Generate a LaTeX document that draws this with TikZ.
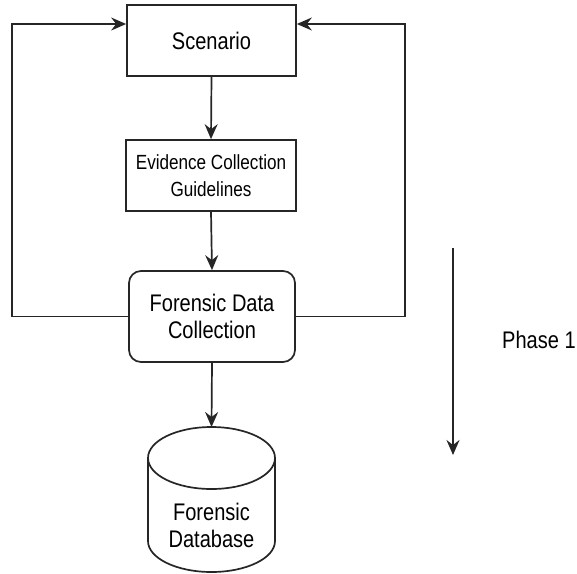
\documentclass[tikz,border=0pt]{standalone}
\usepackage{fontspec}
\setmainfont[FakeStretch=0.835]{Liberation Sans}
\usetikzlibrary{arrows.meta,calc}
\begin{document}
\begin{tikzpicture}[x=1pt,y=-1pt,
  line/.style={draw=black!85, line width=1.7pt},
  arr/.style={line, -{Stealth[length=15pt,width=13pt,inset=5pt]}},
  big/.style={font=\fontsize{24}{27}\selectfont},
  small/.style={font=\fontsize{20.5}{27}\selectfont},
  box/.style={line, rectangle, fill=white, align=center, inner sep=0pt},
  ]
\useasboundingbox (0,0) rectangle (577,573);
% nodes
\node[box, big, minimum width=169pt, minimum height=71pt] (sc) at (211.5,40.5) {Scenario};
\node[box, small, minimum width=170pt, minimum height=71pt] (ev) at (211,175.5) {Evidence Collection\\Guidelines};
\node[box, big, rounded corners=12pt, minimum width=166pt, minimum height=91pt] (fdc) at (212,316.5) {Forensic Data\\Collection};
% cylinder
\fill[white] (148,458) -- (148,541) arc[start angle=180, end angle=0, x radius=63.5, y radius=31] -- (275,458) -- cycle;
\draw[line] (148,458) -- (148,541) arc[start angle=180, end angle=0, x radius=63.5, y radius=31] -- (275,458);
\draw[line, fill=white] (211.5,458) ellipse [x radius=63.5, y radius=31];
\node[big, align=center, inner sep=0pt] (db) at (211.5,525) {Forensic\\Database};
\coordinate (dbtop) at (211.5,427);
% phase
\coordinate (ph1) at (453,248);
\coordinate (ph2) at (453,455);
\node[big, anchor=west, inner sep=0pt] (phase) at (502,340) {Phase 1};
% connectors
\draw[arr] (sc.south) -- (ev.north);
\draw[arr] (ev.south) -- (fdc.north);
\draw[arr] (fdc.south) -- (dbtop);
\draw[arr] (fdc.west) -- ++(-116,0) |- ($(sc.west)+(0,-16.5)$);
\draw[arr] (fdc.east) -- ++(109,0) |- ($(sc.east)+(0,-16.5)$);
\draw[arr] (ph1) -- (ph2);
\end{tikzpicture}
\end{document}
